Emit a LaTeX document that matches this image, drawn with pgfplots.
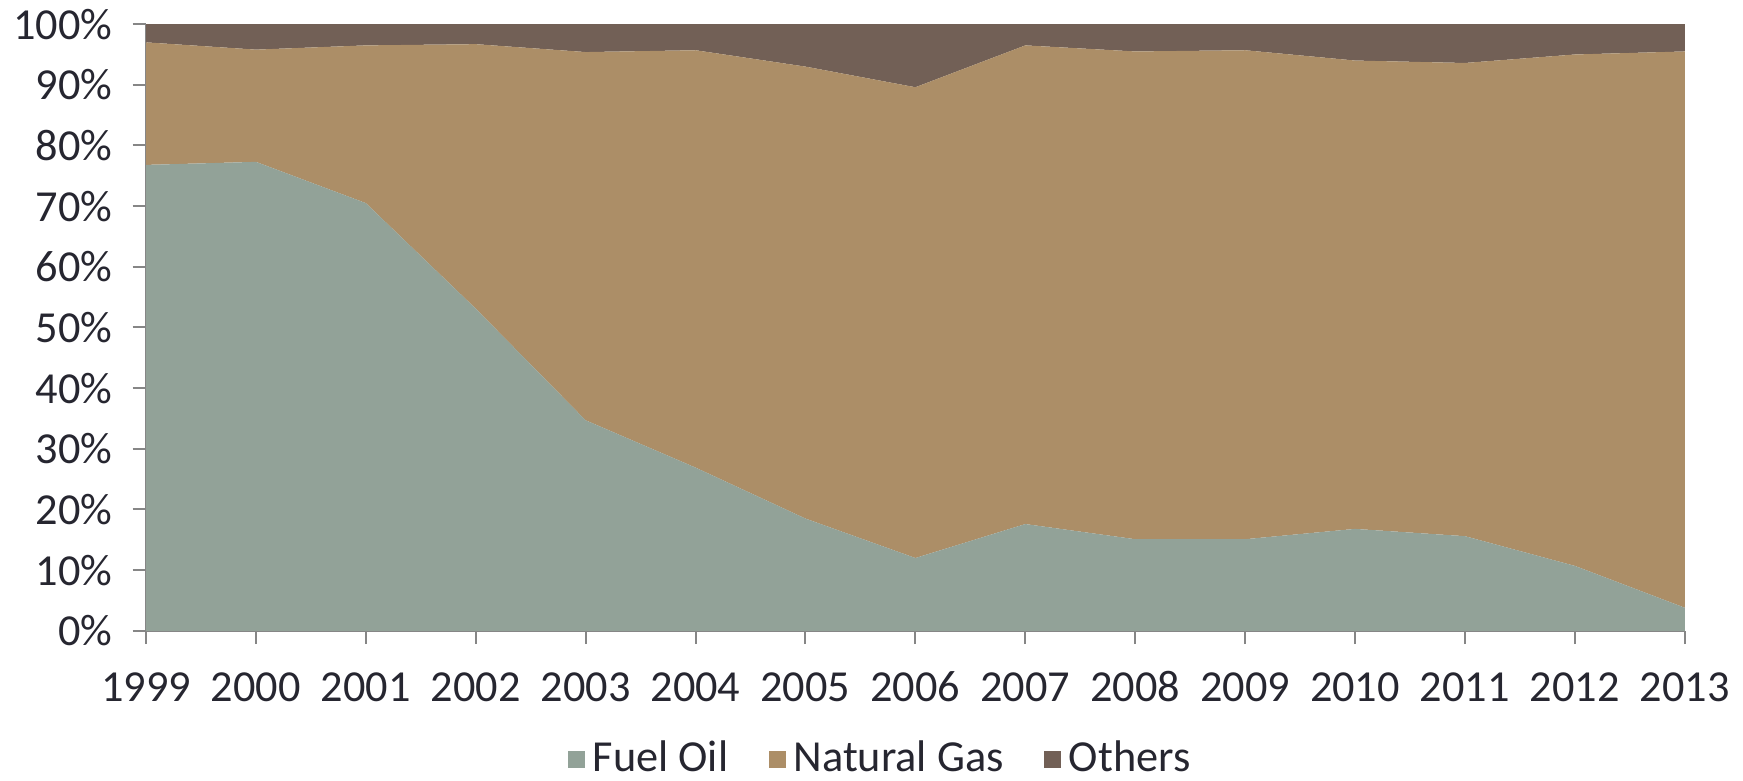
\documentclass[border=0pt]{standalone}
\usepackage{fontspec}
\setmainfont{Carlito}
\usepackage{pgfplots}
\pgfplotsset{compat=1.18}
\definecolor{fuel}{RGB}{146,162,152}
\definecolor{gas}{RGB}{172,142,103}
\definecolor{oth}{RGB}{114,96,86}
\definecolor{txt}{RGB}{38,38,48}
\definecolor{axc}{RGB}{134,134,134}
\begin{document}
\begin{tikzpicture}
\begin{axis}[
  scale only axis,
  width=382pt, height=150.6pt,
  xmin=1999, xmax=2013, ymin=0, ymax=100,
  stack plots=y,
  xtick={1999,...,2013},
  ytick={0,10,...,100},
  x tick label style={/pgf/number format/1000 sep={}, yshift=-3.3pt, text height=7.3pt, text depth=0pt},
  y tick label style={xshift=-1.5pt, inner ysep=2.2pt},
  yticklabel={\pgfmathprintnumber{\tick}\%},
  /pgf/number format/assume math mode=true,
  tick label style={font=\fontsize{11}{13}\selectfont, text=txt},
  axis line style={axc, line width=0.5pt},
  tick style={axc, line width=0.5pt, major tick length=3.3pt},
  tick align=outside,
  axis x line*=bottom, axis y line*=left,
  xtick pos=bottom, ytick pos=left,
  every outer x axis line/.append style={-},
  every outer y axis line/.append style={-},
  legend style={at={(0.479,-0.212)}, anchor=center, draw=none, fill=none,
    inner sep=0pt, outer sep=0pt, nodes={inner ysep=0.6pt},
    legend columns=3, font=\fontsize{11}{13}\selectfont, text=txt,
    /tikz/every even column/.append style={column sep=8pt}},
  legend image code/.code={\fill[#1] (0pt,-2.1pt) rectangle (4.2pt,2.1pt);},
]
\addplot[fill=fuel, draw=none] coordinates {
(1999,76.8) (2000,77.3) (2001,70.5) (2002,53.1) (2003,34.7) (2004,26.9) (2005,18.5)
(2006,12.0) (2007,17.6) (2008,15.1) (2009,15.1) (2010,16.8) (2011,15.6) (2012,10.7) (2013,3.8)} \closedcycle;
\addlegendentry{Fuel Oil}
\addplot[fill=gas, draw=none] coordinates {
(1999,20.2) (2000,18.5) (2001,26.0) (2002,43.6) (2003,60.7) (2004,68.8) (2005,74.5)
(2006,77.6) (2007,78.9) (2008,80.4) (2009,80.6) (2010,77.2) (2011,78.0) (2012,84.3) (2013,91.7)} \closedcycle;
\addlegendentry{Natural Gas}
\addplot[fill=oth, draw=none] coordinates {
(1999,3.0) (2000,4.2) (2001,3.5) (2002,3.3) (2003,4.6) (2004,4.3) (2005,7.0)
(2006,10.4) (2007,3.5) (2008,4.5) (2009,4.3) (2010,6.0) (2011,6.4) (2012,5.0) (2013,4.5)} \closedcycle;
\addlegendentry{Others}
\end{axis}
\end{tikzpicture}
\end{document}
